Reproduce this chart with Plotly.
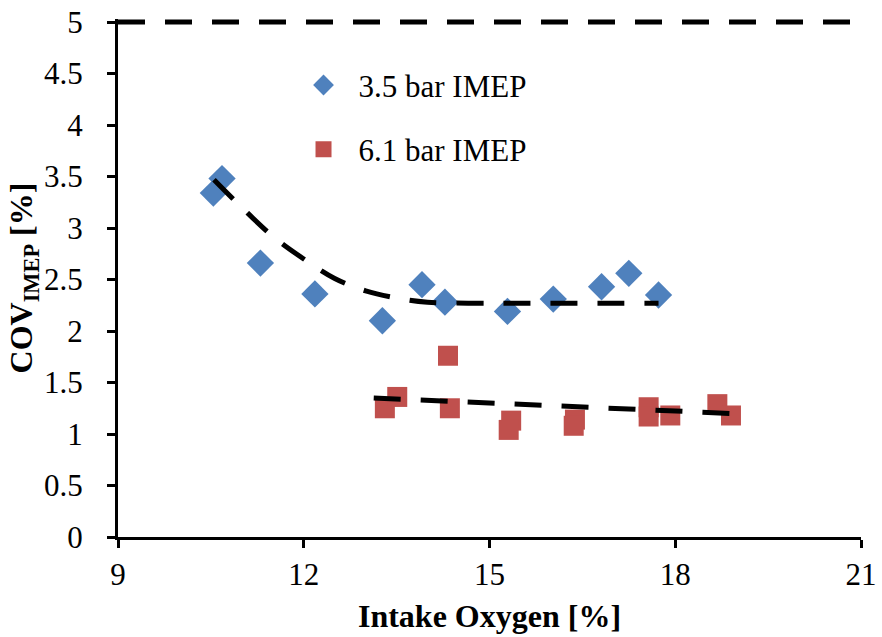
import plotly.graph_objects as go

# ---- data ----
o2_35 = [10.54, 10.68, 11.30, 12.18, 13.27, 13.91, 14.28, 15.29, 16.03, 16.81, 17.25, 17.73]
cov_35 = [3.34, 3.48, 2.66, 2.36, 2.10, 2.45, 2.28, 2.19, 2.31, 2.43, 2.56, 2.35]

o2_61 = [13.31, 13.51, 14.33, 14.36, 15.35, 15.31, 16.38, 16.36, 17.57, 17.57, 17.92, 18.68, 18.90]
cov_61 = [1.25, 1.36, 1.76, 1.25, 1.13, 1.04, 1.14, 1.08, 1.26, 1.17, 1.18, 1.29, 1.18]

trend35_x = [10.55, 11.0, 11.5, 12.0, 12.5, 13.0, 13.5, 14.0, 15.0, 16.0, 17.0, 17.73]
trend35_y = [3.47, 3.20, 2.92, 2.70, 2.51, 2.39, 2.32, 2.28, 2.27, 2.27, 2.27, 2.27]

trend61_x = [13.13, 18.89]
trend61_y = [1.35, 1.20]

limit_x = [9, 21]
limit_y = [5, 5]

x_ticks = [9, 12, 15, 18, 21]
y_ticks = [0, 0.5, 1, 1.5, 2, 2.5, 3, 3.5, 4, 4.5, 5]
y_ticklabels = ["0", "0.5", "1", "1.5", "2", "2.5", "3", "3.5", "4", "4.5", "5"]

BLUE = "#4F81BD"
RED = "#C0504D"
FONT = "Liberation Serif"
dash = "27px,20px"

fig = go.Figure()

fig.add_trace(go.Scatter(
    x=o2_35, y=cov_35, mode="markers", name="3.5 bar IMEP",
    legendgroup="a",
    marker=dict(symbol="diamond", size=21, color=BLUE, line=dict(width=0)),
))
fig.add_trace(go.Scatter(
    x=o2_61, y=cov_61, mode="markers", name="6.1 bar IMEP",
    legendgroup="b",
    marker=dict(symbol="square", size=20, color=RED, line=dict(width=0)),
))
fig.add_trace(go.Scatter(
    x=trend35_x, y=trend35_y, mode="lines", showlegend=False,
    line=dict(color="black", width=5, dash=dash, shape="spline"),
))
fig.add_trace(go.Scatter(
    x=trend61_x, y=trend61_y, mode="lines", showlegend=False,
    line=dict(color="black", width=5, dash=dash),
))
fig.add_trace(go.Scatter(
    x=limit_x, y=limit_y, mode="lines", showlegend=False,
    line=dict(color="black", width=5, dash=dash),
))

fig.update_layout(
    width=882, height=637,
    margin=dict(l=118, r=21, t=19, b=100, autoexpand=False),
    paper_bgcolor="white", plot_bgcolor="white",
    font=dict(family=FONT, size=31, color="black"),
    showlegend=True,
    legend=dict(
        x=0.2295, y=0.924, xanchor="left", yanchor="top",
        itemwidth=60,
        font=dict(family=FONT, size=31, color="black"),
        bgcolor="rgba(0,0,0,0)", traceorder="grouped", tracegroupgap=21,
    ),
    xaxis=dict(
        range=[9, 21], tickmode="array", tickvals=x_ticks,
        automargin=False,
        showline=True, linecolor="black", linewidth=3,
        ticks="outside", ticklen=8, tickwidth=3, tickcolor="black",
        showgrid=False, zeroline=False,
        tickfont=dict(family=FONT, size=31, color="black"),
        title=dict(text="<b>Intake Oxygen [%]</b>", font=dict(family=FONT, size=32), standoff=14),
    ),
    yaxis=dict(
        range=[0, 5.03], tickmode="array", tickvals=y_ticks, ticktext=y_ticklabels,
        automargin=False,
        showline=True, linecolor="black", linewidth=3,
        ticks="outside", ticklen=8, tickwidth=3, tickcolor="black",
        ticklabelstandoff=18,
        showgrid=False, zeroline=False,
        tickfont=dict(family=FONT, size=31, color="black"),
        title=dict(text="<b>COV<sub>IMEP</sub> [%]</b>", font=dict(family=FONT, size=32), standoff=2),
    ),
)

fig.write_html("out.html")
